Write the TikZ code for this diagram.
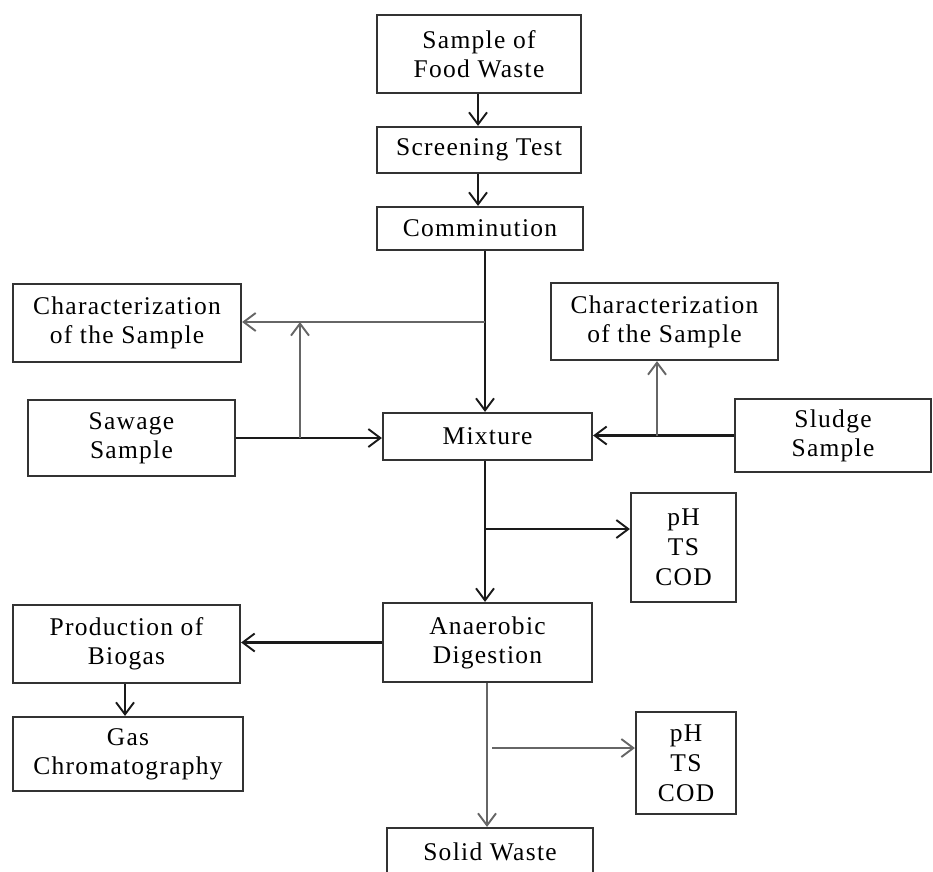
\documentclass[tikz,border=0pt]{standalone}
\usepackage{fontspec}
\setmainfont{Liberation Serif}[LetterSpace=5]
\usetikzlibrary{arrows.meta}
\definecolor{linek}{HTML}{1A1A1A}
\definecolor{lineg}{HTML}{666666}
\definecolor{boxc}{HTML}{333333}
\tikzset{
  box/.style={draw=boxc, line width=2.2pt, fill=white, inner sep=0pt, align=center,
    font=\fontsize{25.5}{29}\selectfont, text=black},
  arr/.style={line width=2.1pt, draw=linek, -{Straight Barb[length=12pt,width=18pt,line width=1.9pt]}},
  arrg/.style={arr, draw=lineg},
  ln/.style={line width=2.1pt, draw=linek},
  lng/.style={ln, draw=lineg}
}
\begin{document}
\begin{tikzpicture}[x=1pt,y=-1pt]
\useasboundingbox (0,0) rectangle (933,871);
\clip (0,0) rectangle (933,871);
\fill[white] (0,0) rectangle (933,871);

% nodes
\node[box, minimum width=204pt, minimum height=78pt] (food) at (479,54) {Sample of\\Food Waste};
\node[box, minimum width=204pt, minimum height=46pt] (screen) at (479,150) {Screening Test};
\node[box, minimum width=206pt, minimum height=43pt] (comm) at (480,228.5) {Comminution};
\node[box, minimum width=228pt, minimum height=78pt] (charL) at (127,323) {Characterization\\of the Sample};
\node[box, minimum width=207pt, minimum height=76pt] (sawage) at (131.5,438) {Sawage\\Sample};
\node[box, minimum width=209pt, minimum height=47pt] (mix) at (487.5,436.5) {Mixture};
\node[box, minimum width=227pt, minimum height=77pt] (charR) at (664.5,321.5) {Characterization\\of the Sample};
\node[box, minimum width=196pt, minimum height=73pt] (sludge) at (833,435.5) {Sludge\\Sample};
\node[box, minimum width=105pt, minimum height=109pt, font=\fontsize{25.5}{30}\selectfont] (ph1) at (683.5,547.5) {pH\\TS\\COD};
\node[box, minimum width=209pt, minimum height=79pt] (anaer) at (487.5,642.5) {Anaerobic\\Digestion};
\node[box, minimum width=227pt, minimum height=78pt] (prod) at (126.5,644) {Production of\\Biogas};
\node[box, minimum width=230pt, minimum height=74pt] (gas) at (128,754) {Gas\\Chromatography};
\node[box, minimum width=100pt, minimum height=102pt, font=\fontsize{25.5}{30}\selectfont] (ph2) at (686,763) {pH\\TS\\COD};
\node[box, minimum width=206pt, minimum height=48pt] (solid) at (490,852) {Solid Waste};

% junction coordinates
\coordinate (c1) at (485,322);
\coordinate (j1) at (300,438);
\coordinate (j2) at (657,435.5);
\coordinate (m1) at (485,529);
\coordinate (a1) at (487,748);
\coordinate (a2) at (492,748);

% connectors
\draw[arr] (food.south -| 478,0) -- (screen.north -| 478,0);
\draw[arr] (screen.south -| 478,0) -- (comm.north -| 478,0);
\draw[ln] (comm.south -| c1) -- (c1);
\draw[arr] (c1) -- (c1 |- mix.north);
\draw[arrg] (c1) -- (charL.east |- c1);
\draw[ln] (sawage.east) -- (j1);
\draw[arr] (j1) -- (mix.west |- j1);
\draw[arrg] (j1) -- (j1 |- c1);
\draw[arr] (sludge.west) -- (mix.east |- sludge.west);
\draw[arrg] (j2) -- (j2 |- charR.south);
\draw[arr] (mix.south -| m1) -- (m1 |- anaer.north);
\draw[arr] (m1) -- (ph1.west |- m1);
\draw[arr] (anaer.west) -- (prod.east |- anaer.west);
\draw[arr] (prod.south -| 125,0) -- (gas.north -| 125,0);
\draw[arrg] (anaer.south -| a1) -- (a1 |- solid.north);
\draw[arrg] (a2) -- (ph2.west |- a2);
\end{tikzpicture}
\end{document}
